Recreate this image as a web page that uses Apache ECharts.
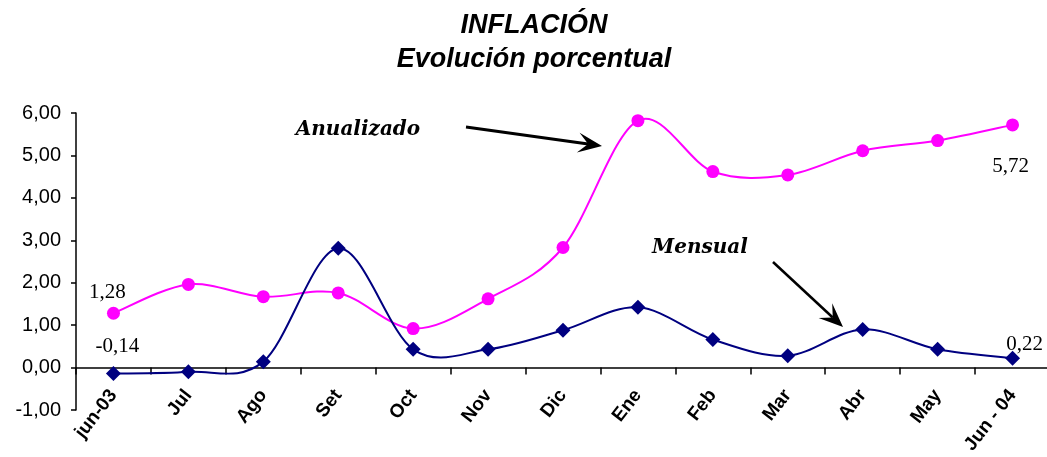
<!DOCTYPE html>
<html>
<head>
<meta charset="utf-8">
<script src="https://cdn.jsdelivr.net/npm/echarts@6/dist/echarts.min.js"></script>
<style>
html, body { margin: 0; padding: 0; background: #fff; }
#chart { width: 1047px; height: 457px; }
</style>
</head>
<body>
<div id="chart"></div>
<script>
var months = ['jun-03', 'Jul', 'Ago', 'Set', 'Oct', 'Nov', 'Dic', 'Ene', 'Feb', 'Mar', 'Abr', 'May', 'Jun - 04'];
var anualizado = [1.28, 1.96, 1.67, 1.76, 0.92, 1.62, 2.83, 5.82, 4.62, 4.54, 5.11, 5.35, 5.72];
var mensual = [-0.14, -0.10, 0.14, 2.81, 0.43, 0.43, 0.88, 1.42, 0.66, 0.28, 0.90, 0.43, 0.22];
var yMin = -1, yMax = 6, yStep = 1;

function fmt(v) {
    return v.toFixed(2).replace('.', ',');
}

// only first and last point carry a value label
function withLabels(values, firstOffset, lastOffset) {
    return values.map(function (v, i) {
        var item = {value: v};
        if (i === 0 || i === values.length - 1) {
            item.label = {
                show: true,
                position: 'inside',
                offset: i === 0 ? firstOffset : lastOffset,
                formatter: function (p) { return fmt(p.value); },
                fontFamily: 'Liberation Serif',
                fontSize: 21,
                color: '#000'
            };
        }
        return item;
    });
}

// excel-like smoothed segment (catmull-rom -> bezier), one per data item
function curveSeries(values, color) {
    return {
        type: 'custom',
        z: 1,
        silent: true,
        data: values.map(function (v, i) { return [i, v]; }),
        encode: {x: 0, y: 1},
        renderItem: function (params, api) {
            var i = params.dataIndex, n = values.length;
            if (i >= n - 1) return null;
            var p = function (k) {
                k = Math.max(0, Math.min(n - 1, k));
                return api.coord([k, values[k]]);
            };
            var p0 = p(i - 1), p1 = p(i), p2 = p(i + 1), p3 = p(i + 2);
            return {
                type: 'bezierCurve',
                shape: {
                    x1: p1[0], y1: p1[1], x2: p2[0], y2: p2[1],
                    cpx1: p1[0] + (p2[0] - p0[0]) / 6, cpy1: p1[1] + (p2[1] - p0[1]) / 6,
                    cpx2: p2[0] - (p3[0] - p1[0]) / 6, cpy2: p2[1] - (p3[1] - p1[1]) / 6
                },
                style: {stroke: color, lineWidth: 2, fill: null}
            };
        }
    };
}

function arrow(x1, y1, x2, y2, w) {
    var dx = x2 - x1, dy = y2 - y1;
    var len = Math.sqrt(dx * dx + dy * dy);
    var ux = dx / len, uy = dy / len, px = -uy, py = ux;
    var hl = 24, hw = 10, notch = 14;
    return [
        {type: 'line', shape: {x1: x1, y1: y1, x2: x2 - ux * notch, y2: y2 - uy * notch},
            style: {stroke: '#000', lineWidth: w}},
        {type: 'polygon', shape: {points: [
            [x2, y2],
            [x2 - ux * hl + px * hw, y2 - uy * hl + py * hw],
            [x2 - ux * notch, y2 - uy * notch],
            [x2 - ux * hl - px * hw, y2 - uy * hl - py * hw]
        ]}, style: {fill: '#000'}}
    ];
}

var chart = echarts.init(document.getElementById('chart'));

var noteFont = 'bold italic 20px "DejaVu Serif"';
var graphics = [
    {type: 'text', x: 534, y: 9, style: {
        text: 'INFLACIÓN\nEvolución porcentual', align: 'center', verticalAlign: 'top',
        font: 'bold italic 27px "Liberation Sans"', lineHeight: 34, fill: '#000'}},
    {type: 'text', x: 358, y: 130, style: {text: 'Anualizado', align: 'center', verticalAlign: 'middle', font: noteFont, fill: '#000'}},
    {type: 'text', x: 700, y: 248, style: {text: 'Mensual', align: 'center', verticalAlign: 'middle', font: noteFont, fill: '#000'}}
].concat(arrow(466, 127, 602, 146, 3), arrow(773, 262, 843, 327, 2.5));

chart.setOption({
    backgroundColor: '#fff',
    animation: false,
    grid: {left: 76, right: -3, top: 113, bottom: 47, outerBoundsMode: 'none'},
    xAxis: {
        type: 'category',
        data: months,
        boundaryGap: true,
        axisLine: {onZero: true, lineStyle: {color: '#000', width: 1.5}},
        axisTick: {show: true, length: 7, lineStyle: {color: '#000', width: 1.5}},
        axisLabel: {
            rotate: 52, margin: -18, interval: 0,
            fontFamily: 'Liberation Sans', fontWeight: 'bold', fontSize: 19, color: '#000'
        },
        splitLine: {show: false}
    },
    yAxis: {
        type: 'value',
        min: yMin, max: yMax, interval: yStep,
        axisLine: {show: true, lineStyle: {color: '#000', width: 1.5}},
        axisTick: {show: true, length: 5, lineStyle: {color: '#000', width: 1.5}},
        axisLabel: {
            margin: 15, fontFamily: 'Liberation Sans', fontSize: 20, color: '#000',
            formatter: fmt
        },
        splitLine: {show: false}
    },
    graphic: graphics,
    series: [
        curveSeries(anualizado, '#ff00ff'),
        curveSeries(mensual, '#000080'),
        {
            name: 'Anualizado',
            type: 'line',
            z: 3,
            data: withLabels(anualizado, [-6, -21], [-2, 42]),
            symbol: 'circle',
            symbolSize: 13,
            itemStyle: {color: '#ff00ff'},
            lineStyle: {width: 0, opacity: 0}
        },
        {
            name: 'Mensual',
            type: 'line',
            z: 3,
            data: withLabels(mensual, [4, -27], [12, -14]),
            symbol: 'diamond',
            symbolSize: 15,
            itemStyle: {color: '#000080'},
            lineStyle: {width: 0, opacity: 0}
        }
    ]
});
</script>
</body>
</html>
